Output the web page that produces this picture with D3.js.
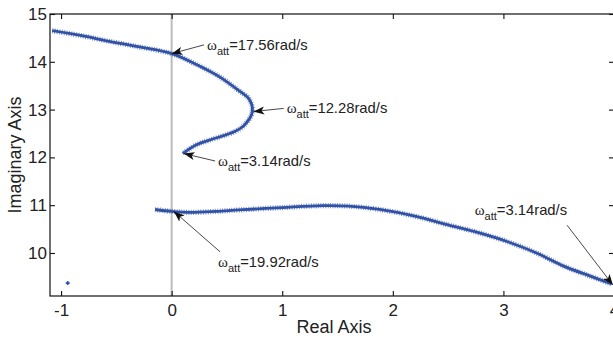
<!DOCTYPE html>
<html>
<head>
<meta charset="utf-8">
<script src="https://cdn.jsdelivr.net/npm/d3@7/dist/d3.min.js"></script>
<style>
  html, body { margin: 0; padding: 0; background: #fff; }
  svg { display: block; font-family: "Liberation Sans", Arial, Helvetica, sans-serif; }
</style>
</head>
<body>
<svg id="chart" width="613" height="339"></svg>
<script>
// Root locus branches as attenuation frequency varies (real, imaginary)
const upperBranch = [
  [-1.08, 14.65], [-0.80, 14.54], [-0.59, 14.44], [-0.29, 14.31], [0.00, 14.17],
  [0.20, 13.97], [0.43, 13.69], [0.60, 13.41], [0.70, 13.22], [0.73, 12.96],
  [0.66, 12.68], [0.57, 12.54], [0.34, 12.36], [0.22, 12.26], [0.10, 12.08]
];
const lowerBranch = [
  [-0.15, 10.91], [0.00, 10.87], [0.16, 10.85], [0.40, 10.87], [0.61, 10.90],
  [1.00, 10.95], [1.36, 10.99], [1.60, 10.98], [1.88, 10.91], [2.20, 10.77],
  [2.48, 10.60], [2.75, 10.44], [3.02, 10.25], [3.30, 10.00], [3.54, 9.73],
  [3.78, 9.52], [3.98, 9.35]
];
const isolatedPole = [[-0.94, 9.37]];

// Annotated locus points: label value, target point, label anchor (data units),
// and which side of the label the leader line leaves from
const annotations = [
  { w: "17.56", at: [0.00, 14.17], text: [0.32, 14.25], side: "left" },
  { w: "12.28", at: [0.74, 12.96], text: [1.04, 12.92], side: "left" },
  { w: "3.14",  at: [0.11, 12.08], text: [0.42, 11.82], side: "left" },
  { w: "19.92", at: [0.02, 10.87], text: [0.42, 9.71],  side: "top" },
  { w: "3.14",  at: [3.99, 9.33],  text: [2.74, 10.79], side: "bottomRight" }
];

const xTicks = [-1, 0, 1, 2, 3, 4];
const yTicks = [10, 11, 12, 13, 14, 15];

const svg = d3.select("#chart");
const margin = { left: 50, top: 14, right: 614, bottom: 296 };

const x = d3.scaleLinear().domain([-1.1, 4.0]).range([margin.left, margin.right]);
const y = d3.scaleLinear().domain([9.1, 15.0]).range([margin.bottom, margin.top]);

const blue = "#3152a6";

// Imaginary axis reference line at Re = 0
svg.append("line")
  .attr("x1", x(0)).attr("x2", x(0))
  .attr("y1", margin.top).attr("y2", margin.bottom)
  .attr("stroke", "#bcbcbc").attr("stroke-width", 2);

const line = d3.line().x(d => x(d[0])).y(d => y(d[1])).curve(d3.curveCatmullRom.alpha(0.5));

// Each branch: a solid core plus a perpendicular hatch that reads as dense "+" markers
[upperBranch, lowerBranch].forEach(b => {
  svg.append("path").attr("d", line(b))
    .attr("fill", "none").attr("stroke", blue).attr("stroke-width", 2.8);
  svg.append("path").attr("d", line(b))
    .attr("fill", "none").attr("stroke", blue).attr("stroke-width", 5.2)
    .attr("stroke-dasharray", "0.9 1.5").attr("opacity", 0.7);
});

svg.selectAll(".pole").data(isolatedPole).enter().append("path")
  .attr("transform", d => `translate(${x(d[0])},${y(d[1])})`)
  .attr("d", "M-2,0H2M0,-2V2")
  .attr("stroke", blue).attr("stroke-width", 1.6);

// Arrow marker
svg.append("defs").append("marker")
  .attr("id", "arrow").attr("viewBox", "0 -5 12 10")
  .attr("refX", 12).attr("refY", 0)
  .attr("markerWidth", 11).attr("markerHeight", 9)
  .attr("markerUnits", "userSpaceOnUse")
  .attr("orient", "auto")
  .append("path").attr("d", "M0,-4.5L12,0L0,4.5L3,0Z").attr("fill", "#111");

const ann = svg.append("g");
annotations.forEach(a => {
  const tx = x(a.text[0]), ty = y(a.text[1]);
  const px = x(a.at[0]), py = y(a.at[1]);
  const t = ann.append("text").attr("x", tx).attr("y", ty)
    .attr("font-size", 14.8).attr("fill", "#222");
  t.append("tspan").text("ω").attr("font-family", "'Liberation Serif', 'Times New Roman', serif").attr("font-size", 15);
  t.append("tspan").text("att").attr("dy", 5).attr("font-size", 11);
  t.append("tspan").text("=" + a.w + "rad/s").attr("dy", -5);
  const bb = t.node().getBBox();
  let sx, sy;
  if (a.side === "left") { sx = tx - 3; sy = ty - 5; }
  else if (a.side === "top") { sx = tx + 2; sy = ty - 15; }
  else { sx = bb.x + bb.width; sy = ty + 10; }
  ann.append("line")
    .attr("x1", sx).attr("y1", sy).attr("x2", px).attr("y2", py)
    .attr("stroke", "#333").attr("stroke-width", 0.9)
    .attr("marker-end", "url(#arrow)");
});

// Axes box with inward ticks on all four sides
const tickLen = 5;
const axisColor = "#111";
svg.append("rect")
  .attr("x", margin.left).attr("y", margin.top)
  .attr("width", margin.right - margin.left).attr("height", margin.bottom - margin.top)
  .attr("fill", "none").attr("stroke", axisColor).attr("stroke-width", 1.2);

const fmt = d => (d < 0 ? "-" : "") + Math.abs(d);
const xAxis = d3.axisBottom(x).tickValues(xTicks).tickSizeInner(-tickLen).tickSizeOuter(0).tickPadding(8)
  .tickFormat(fmt);
const gx = svg.append("g").attr("transform", `translate(0,${margin.bottom})`).call(xAxis);
const xTop = d3.axisTop(x).tickValues(xTicks).tickSizeInner(-tickLen).tickSizeOuter(0).tickFormat("");
const gxt = svg.append("g").attr("transform", `translate(0,${margin.top})`).call(xTop);

const yAxis = d3.axisLeft(y).tickValues(yTicks).tickSizeInner(-tickLen).tickSizeOuter(0).tickPadding(3)
  .tickFormat(fmt);
const gy = svg.append("g").attr("transform", `translate(${margin.left},0)`).call(yAxis);
const yRight = d3.axisRight(y).tickValues(yTicks).tickSizeInner(-tickLen).tickSizeOuter(0).tickFormat("");
const gyr = svg.append("g").attr("transform", `translate(${margin.right},0)`).call(yRight);

[gx, gxt, gy, gyr].forEach(g => {
  g.select(".domain").remove();
  g.selectAll(".tick line").attr("stroke", axisColor).attr("stroke-width", 1.1);
  g.selectAll(".tick text").attr("font-size", 17).attr("fill", "#222")
    .attr("font-family", "'Liberation Sans', Arial, sans-serif");
});

svg.append("text").attr("x", 334).attr("y", 333)
  .attr("text-anchor", "middle").attr("font-size", 18).attr("fill", "#222")
  .text("Real Axis");
svg.append("text")
  .attr("transform", `translate(21,${(margin.top + margin.bottom) / 2}) rotate(-90)`)
  .attr("text-anchor", "middle").attr("font-size", 18).attr("fill", "#222")
  .text("Imaginary Axis");
</script>
</body>
</html>
